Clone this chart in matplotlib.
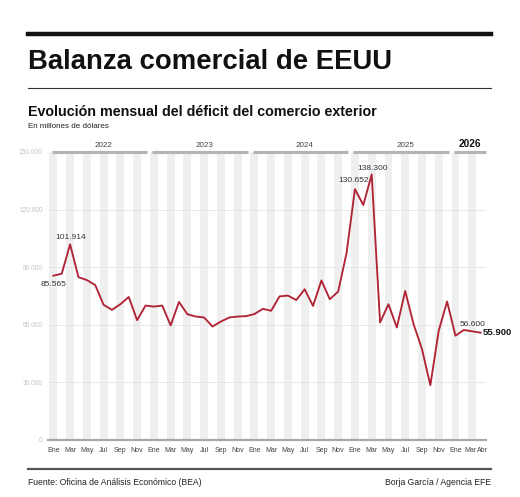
"""Balanza comercial de EEUU - deficit mensual."""

import matplotlib

matplotlib.use("Agg")
import matplotlib.pyplot as plt
import numpy as np

plt.rcParams["font.family"] = ["Liberation Sans", "DejaVu Sans"]

# datos (millones de dolares), enero 2022 - abril 2026
years = [2022, 2023, 2024, 2025, 2026]
deficit_2022 = [85565, 86600, 101914, 84800, 83300, 80700, 70400, 67800, 70700, 74500, 62400, 70000]
deficit_2023 = [69500, 70000, 59700, 71900, 65500, 64300, 63800, 59100, 61700, 63800, 64300, 64500]
deficit_2024 = [65600, 68300, 67300, 74800, 75200, 72900, 78500, 69800, 83100, 73300, 77300, 97400]
deficit_2025 = [130652, 122400, 138300, 61200, 70700, 58600, 77600, 60300, 47400, 28500, 56900, 72100]
deficit_2026 = [54300, 57300, 56600, 55900]
month_names = ["Ene", "Feb", "Mar", "Abr", "May", "Jun", "Jul", "Ago", "Sep", "Oct", "Nov", "Dic"]
y_ticks = [0, 30000, 60000, 90000, 120000, 150000]

# puntos etiquetados: (indice del mes, texto)
labels_marked = [(0, "85.565"), (2, "101.914"), (36, "130.652"), (38, "138.300"), (50, "56.600")]

values = deficit_2022 + deficit_2023 + deficit_2024 + deficit_2025 + deficit_2026
n = len(values)
x = np.arange(n)
months = [month_names[i % 12] for i in range(n)]

RED = "#b02436"
GREY_TXT = "#444444"

fig = plt.figure(figsize=(5.2, 4.97), dpi=100)
ax = fig.add_axes([0.0929, 0.1147, 0.841, 0.5795])

# bandas verticales en meses impares
for i in range(0, n, 2):
    ax.axvspan(i - 0.47, i + 0.47, color="#efefef", lw=0, zorder=0)

for yv in y_ticks[1:-1]:
    ax.axhline(yv, color="#e4e4e4", lw=0.6, zorder=1)

ax.plot(x, values, color=RED, lw=1.35, zorder=3)

ax.set_xlim(-0.6, n - 0.4)
ax.set_ylim(0, 150000)

for spine in ["top", "right", "left"]:
    ax.spines[spine].set_visible(False)
ax.spines["bottom"].set_color("#a8a8a8")
ax.spines["bottom"].set_linewidth(1.6)

ax.set_yticks(y_ticks)
ax.set_yticklabels([f"{v:,}".replace(",", ".") for v in y_ticks])
ax.tick_params(axis="y", length=0, pad=4, labelsize=4.8, labelcolor="#c4c4c4")

# etiquetas del eje x; las dos ultimas se colocan a mano para que no se pisen
tick_idx = [i for i in range(n - 2) if i % 2 == 0]
ax.set_xticks(tick_idx)
ax.set_xticklabels([months[i] for i in tick_idx])
ax.tick_params(axis="x", length=0, pad=5, labelsize=5, labelcolor=GREY_TXT)
xax = ax.get_xaxis_transform()
for i, dx in [(n - 2, -0.2), (n - 1, 0.2)]:
    ax.text(i + dx, -0.024, months[i], transform=xax, ha="center", va="top",
            fontsize=5, color=GREY_TXT)

# barras de anio arriba
for k, yr in enumerate(years):
    start = 12 * k
    end = min(start + 11.2, n - 0.4)
    ax.plot([max(start - 0.2, -0.6), end], [150000, 150000], color="#b4b4b4",
            lw=2.2, solid_capstyle="butt", clip_on=False, zorder=2)
    if yr == years[-1]:
        ax.text((start - 0.2 + end) / 2, 151300, str(yr), ha="center", va="bottom",
                fontsize=7.2, fontweight="bold", color="#111111")
    else:
        ax.text(start + 6, 151300, str(yr), ha="center", va="bottom",
                fontsize=5.8, color=GREY_TXT)

# etiquetas de valores
for i, txt in labels_marked:
    if i == 0:
        ax.text(i, values[i] - 3000, txt, ha="center", va="top", fontsize=6, color="#333333")
    elif i == 36:
        ax.text(i - 0.2, values[i] + 2500, txt, ha="center", va="bottom", fontsize=6, color="#333333")
    else:
        ax.text(i + 0.1, values[i] + 1500, txt, ha="center", va="bottom", fontsize=6, color="#333333")

ax.text(n - 1 + 0.3, values[-1], "55.900", ha="left", va="center",
        fontsize=6.8, fontweight="bold", color="#111111")

# cabecera
fig.add_artist(plt.Line2D([28 / 520, 491 / 520], [1 - 34 / 497] * 2, color="#111111", lw=3.2))
fig.text(28 / 520, 1 - 62 / 497, "Balanza comercial de EEUU", ha="left", va="center",
         fontsize=19.8, fontweight="bold", color="#111111")
fig.add_artist(plt.Line2D([28 / 520, 491 / 520], [1 - 87.5 / 497] * 2, color="#333333", lw=0.8))
fig.text(28 / 520, 1 - 112 / 497, "Evolución mensual del déficit del comercio exterior",
         ha="left", va="center", fontsize=10.3, fontweight="bold", color="#111111")
fig.text(28 / 520, 1 - 126.5 / 497, "En millones de dólares", ha="left", va="center",
         fontsize=5.8, color="#222222")

# pie
fig.add_artist(plt.Line2D([28 / 520, 491 / 520], [1 - 468.5 / 497] * 2, color="#555555", lw=1.6))
fig.text(28 / 520, 1 - 482.5 / 497, "Fuente: Oficina de Análisis Económico (BEA)", ha="left",
         va="center", fontsize=6.2, color="#222222")
fig.text(491 / 520, 1 - 482.5 / 497, "Borja García / Agencia EFE", ha="right",
         va="center", fontsize=6.2, color="#222222")

fig.savefig("out.png", dpi=100, facecolor="white")
